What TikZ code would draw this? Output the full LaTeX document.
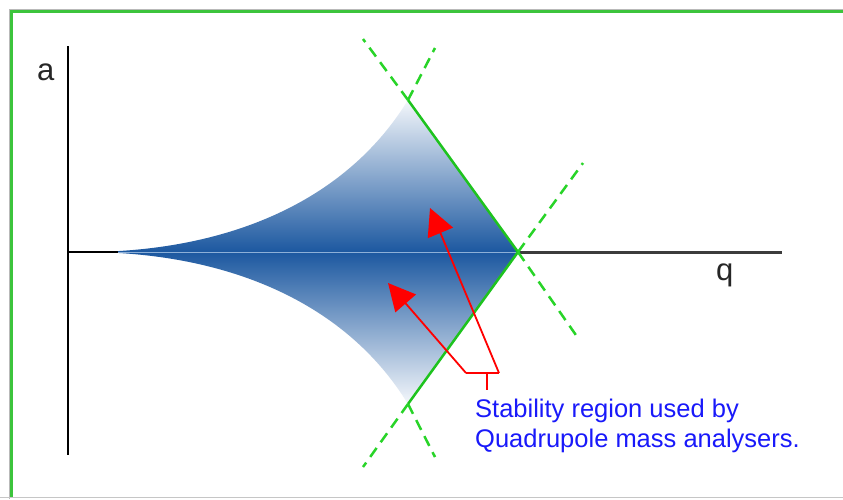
\documentclass[tikz,border=0pt]{standalone}
\usepackage{fontspec}
\setmainfont{Liberation Sans}
\usetikzlibrary{arrows.meta}
\definecolor{frameGreen}{RGB}{60,196,60}
\definecolor{lineGreen}{RGB}{30,195,30}
\definecolor{dashGreen}{RGB}{40,212,40}
\definecolor{deepBlue}{RGB}{28,88,160}
\definecolor{paleBlue}{RGB}{244,247,251}
\definecolor{axisBlue}{RGB}{140,175,215}
\definecolor{labelBlue}{RGB}{25,25,250}
\definecolor{arrowRed}{RGB}{255,0,0}
\definecolor{axisGray}{RGB}{60,60,60}
\begin{document}
\begin{tikzpicture}[x=1pt,y=-1pt,
  axisline/.style={draw=black,line width=2pt},
  boundary/.style={draw=lineGreen,line width=2.5pt},
  extension/.style={draw=dashGreen,line width=2.5pt,dash pattern=on 11pt off 7pt},
  pointer/.style={draw=arrowRed,line width=1.8pt,-{Triangle[length=27pt,width=27pt]}},
  bracket/.style={draw=arrowRed,line width=1.8pt},
  axislabel/.style={inner sep=0pt,anchor=base west,text=black!85,font=\fontsize{31}{37}\selectfont},
  caption/.style={inner sep=0pt,anchor=base west,text=labelBlue,font=\fontsize{25.5}{30}\selectfont},
]
\useasboundingbox (0,0) rectangle (843,499);
\fill[white] (0,0) rectangle (843,499);

% frame
\draw[gray!55, line width=1pt] (9,499) -- (9,9) -- (843,9);
\draw[frameGreen, line width=3pt] (11.5,497) -- (11.5,11) -- (843,11);
\draw[gray!45, line width=1pt] (0,497.5) -- (843,497.5);

% key points
\coordinate (origin) at (68,252);
\coordinate (ytop) at (68,46);
\coordinate (ybot) at (68,455);
\coordinate (xend) at (782,252);
\coordinate (cusp) at (95,252);
\coordinate (top) at (408,100);
\coordinate (tip) at (518,252);
\coordinate (bot) at (408,404);

% stability region
\begin{scope}
\clip (cusp) .. controls (240,249) and (350,195) .. (top) -- (tip) -- (bot)
      .. controls (350,309) and (240,255) .. (cusp) -- cycle;
\shade[top color=paleBlue, bottom color=paleBlue, middle color=deepBlue] (90,100) rectangle (520,404);
\end{scope}

% axes
\draw[axisline] (ytop) -- (ybot);
\draw[axisline] (origin) -- (118,252);
\draw[axisBlue, line width=1pt] (118,252) -- (tip);
\draw[axisGray, line width=3pt] (tip) -- (xend);
\node[axislabel] (alabel) at (37,80) {a};
\node[axislabel] (qlabel) at (716,280) {q};

% boundary lines
\draw[boundary] (top) -- (tip) -- (bot);
\draw[extension] (top) -- (363,39);
\draw[extension] (top) -- (435,48);
\draw[extension] (bot) -- (363,467);
\draw[extension] (bot) -- (435,457);
\draw[extension] (tip) -- (583,163);
\draw[extension] (tip) -- (578,338);

% pointers
\coordinate (headA) at (430,208);
\coordinate (headB) at (388,283);
\coordinate (cornerL) at (466,373);
\coordinate (cornerR) at (499,373);
\coordinate (stem) at (487,373);
\coordinate (stemEnd) at (487,390);
\draw[bracket, line join=miter] (cornerL) -- (cornerR);
\draw[pointer] (cornerR) -- (headA);
\draw[pointer] (cornerL) -- (headB);
\draw[bracket] (stem) -- (stemEnd);

% caption
\node[caption] (cap1) at (475,417) {Stability region used by};
\node[caption] (cap2) at (475,447) {Quadrupole mass analysers.};
\end{tikzpicture}
\end{document}
